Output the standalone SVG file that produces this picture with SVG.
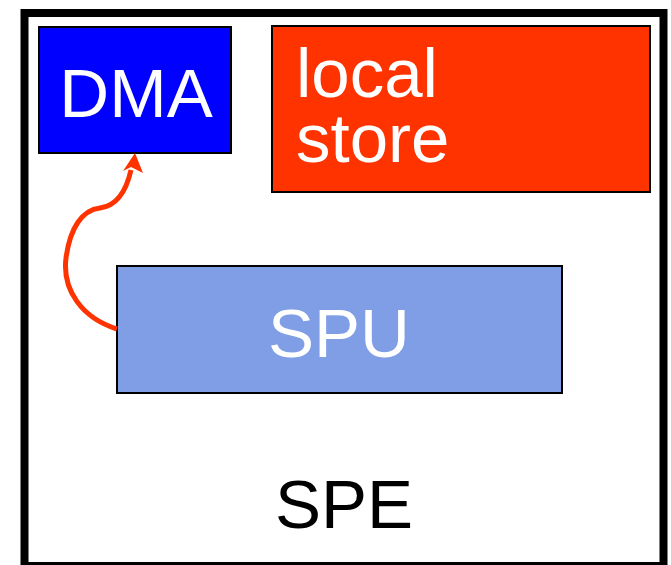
<svg xmlns="http://www.w3.org/2000/svg" width="671" height="565" viewBox="0 0 671 565">
<style>
.lbl{font-family:"Liberation Sans",Arial,sans-serif;font-size:69px;}
.box{stroke:#000;stroke-width:2;}
</style>
<rect width="671" height="565" fill="#fff"/>
<g id="spe">
<rect x="24.5" y="13" width="639" height="553" fill="#fff" stroke="#000" stroke-width="8"/>
<text class="lbl" x="344" y="528" text-anchor="middle" fill="#000">SPE</text>
</g>
<g id="dma">
<rect class="box" x="39" y="27" width="192" height="126" fill="#0000ff"/>
<text class="lbl" x="136" y="117" text-anchor="middle" fill="#fff">DMA</text>
</g>
<g id="local-store">
<rect class="box" x="272" y="26" width="378" height="166" fill="#ff3300"/>
<text class="lbl" x="296" y="97" fill="#fff">local</text>
<text class="lbl" x="296" y="162" fill="#fff">store</text>
</g>
<g id="spu">
<rect class="box" x="117" y="266" width="445" height="127" fill="#7f9ee6"/>
<text class="lbl" x="339" y="357" text-anchor="middle" fill="#fff">SPU</text>
</g>
<g id="connectors">
<path d="M117,329 C82,318 62,290 66,258 C70,228 82,210 100,208 C116,206 126,192 131,170" fill="none" stroke="#ff3300" stroke-width="5"/>
<polygon points="135,153 143,173 131,167 123,171" fill="#ff3300"/>
</g>
</svg>
